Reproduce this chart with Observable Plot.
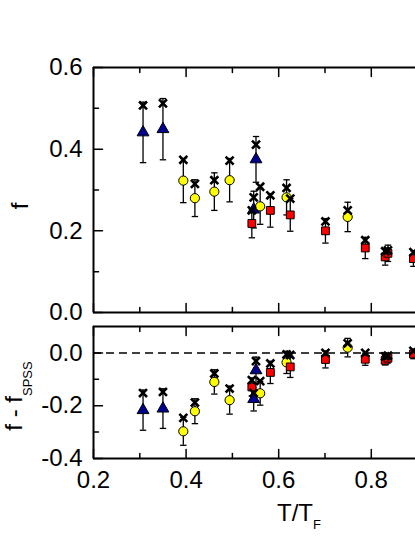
<!DOCTYPE html>
<html><head><meta charset="utf-8">
<script src="https://cdn.jsdelivr.net/npm/d3@7"></script>
<script src="https://cdn.jsdelivr.net/npm/@observablehq/plot@0.6"></script>
<style>
html,body{margin:0;padding:0;background:#fff;overflow:hidden;width:415px;height:537px;}
#wrap{position:relative;width:415px;height:537px;overflow:hidden;font-family:"Liberation Sans",Arial,Helvetica,sans-serif;color:#000;}
#top,#bot{position:absolute;left:0;}
#top{top:0;} #bot{top:316px;}
.lab{position:absolute;font-size:24px;line-height:24px;white-space:nowrap;}
.rot{transform:translate(-50%,-50%) rotate(-90deg);}
.sub{font-size:13px;position:relative;}
</style></head><body>
<div id="wrap">
<div id="top"></div><div id="bot"></div>
<div class="lab rot" style="left:20px;top:206px">f</div>
<div class="lab rot" style="left:16px;top:396px">f - f<span class="sub" style="top:10px">SPSS</span></div>
<div class="lab" style="left:277px;top:501px">T/T<span class="sub" style="top:8px">F</span></div>
</div>
<script>
// ---- data ----
// blue triangles
const triT   = [0.307, 0.350, 0.546, 0.551];
const triF   = [0.441, 0.449, 0.252, 0.375];
const triFe  = [0.074, 0.075, 0.045, 0.056];
const triFx  = [0.507, 0.512, 0.282, 0.411];
const triD   = [-0.217, -0.211, -0.175, -0.066];
const triDe  = [0.076, 0.075, 0.045, 0.050];
const triDx  = [-0.152, -0.148, -0.152, -0.031];
// yellow circles
const cirT   = [0.394, 0.419, 0.461, 0.494, 0.560, 0.617, 0.749];
const cirF   = [0.323, 0.280, 0.296, 0.324, 0.260, 0.282, 0.234];
const cirFe  = [0.054, 0.045, 0.046, 0.053, 0.044, 0.043, 0.036];
const cirFx  = [0.374, 0.315, 0.324, 0.372, 0.308, 0.305, 0.250];
const cirD   = [-0.297, -0.221, -0.110, -0.179, -0.153, -0.036, 0.020];
const cirDe  = [0.053, 0.047, 0.046, 0.053, 0.045, 0.042, 0.035];
const cirDx  = [-0.246, -0.188, -0.078, -0.135, -0.107, -0.006, 0.036];
// red squares
const sqT    = [0.542, 0.582, 0.625, 0.701, 0.787, 0.830, 0.836, 0.891];
const sqF    = [0.218, 0.250, 0.239, 0.200, 0.158, 0.136, 0.145, 0.132];
const sqFe   = [0.035, 0.041, 0.040, 0.030, 0.026, 0.020, 0.020, 0.019];
const sqFx   = [0.250, 0.287, 0.279, 0.223, 0.177, 0.150, 0.152, 0.148];
const sqD    = [-0.129, -0.074, -0.053, -0.025, -0.024, -0.028, -0.020, -0.004];
const sqDe   = [0.034, 0.042, 0.040, 0.032, 0.023, 0.018, 0.018, 0.018];
const sqDx   = [-0.103, -0.040, -0.008, 0.000, 0.000, -0.013, -0.010, 0.008];
// axes
const xDomain = [0.2, 0.8955];
const xMajor = [0.2, 0.4, 0.6, 0.8];
const xMinor = [0.3, 0.5, 0.7];
const fDomain = [0, 0.6];
const fMajor = [0, 0.2, 0.4, 0.6];
const fMinor = [0.1, 0.3, 0.5];
const dDomain = [-0.4, 0.1];
const dMajor = [-0.4, -0.2, 0];
const dMinor = [-0.3, -0.1];

const rows = (xs, vs, es, cs) => xs.map((x, i) => ({x, v: vs[i], e: es[i], c: cs[i]}));
const FONT = '"Liberation Sans", Arial, Helvetica, sans-serif';
const tickShape = {draw(ctx, l) { ctx.moveTo(0, 0); ctx.lineTo(0, -l); }};
const capSym = {draw(ctx) { ctx.moveTo(-3.2, 0); ctx.lineTo(3.2, 0); }};

function tickMarks(values, ch, anchor, rotate, length) {
  return Plot.vector(values, {[ch]: d => d, frameAnchor: anchor, rotate, length, anchor: "start",
    shape: tickShape, stroke: "#000", strokeWidth: 1.5});
}
function dataMarks(series) {
  const m = [];
  for (const s of series) {
    m.push(Plot.ruleX(s.data, {x: "x", y1: d => d.v - d.e, y2: d => d.v + d.e, stroke: "#000", strokeWidth: 1.3}));
    m.push(Plot.dot(s.data, {x: "x", y: d => d.v - d.e, symbol: capSym, r: 3, fill: "none", stroke: "#000", strokeWidth: 1.3}));
    m.push(Plot.dot(s.data, {x: "x", y: d => d.v + d.e, symbol: capSym, r: 3, fill: "none", stroke: "#000", strokeWidth: 1.3}));
  }
  for (const s of series) {
    m.push(Plot.dot(s.data, {x: "x", y: "v", symbol: s.symbol, r: s.r, fill: s.fill, stroke: "#000", strokeWidth: 1}));
  }
  for (const s of series) {
    m.push(Plot.dot(s.data, {x: "x", y: "c", symbol: "times", r: 3.7, fill: "none", stroke: "#000", strokeWidth: 2.6}));
  }
  return m;
}
function frameMarks(yd) {
  return [
    Plot.ruleY([yd[1]], {stroke: "#000", strokeWidth: 2}),
    Plot.ruleY([yd[0]], {stroke: "#000", strokeWidth: 2}),
    Plot.ruleX([xDomain[0]], {stroke: "#000", strokeWidth: 2})
  ];
}
function axisTicks(yMaj, yMin) {
  return [
    tickMarks(yMaj, "y", "left", 90, 9),
    tickMarks(yMin, "y", "left", 90, 5),
    tickMarks(xMajor, "x", "top", 180, 9),
    tickMarks(xMinor, "x", "top", 180, 5),
    tickMarks(xMajor, "x", "bottom", 0, 9),
    tickMarks(xMinor, "x", "bottom", 0, 5)
  ];
}
const style = {fontFamily: FONT, fontSize: "24px", background: "transparent", overflow: "visible", color: "#000"};
const fmt = d => d.toFixed(1);

const topSeries = [
  {data: rows(triT, triF, triFe, triFx), symbol: "triangle", r: 4.4, fill: "#00008f"},
  {data: rows(cirT, cirF, cirFe, cirFx), symbol: "circle", r: 4.6, fill: "#ffff00"},
  {data: rows(sqT, sqF, sqFe, sqFx), symbol: "square", r: 4.4, fill: "#ff0000"}
];
const botSeries = [
  {data: rows(triT, triD, triDe, triDx), symbol: "triangle", r: 4.4, fill: "#00008f"},
  {data: rows(cirT, cirD, cirDe, cirDx), symbol: "circle", r: 4.6, fill: "#ffff00"},
  {data: rows(sqT, sqD, sqDe, sqDx), symbol: "square", r: 4.4, fill: "#ff0000"}
];

const topPlot = Plot.plot({
  width: 415, height: 316, marginLeft: 93, marginRight: 0, marginTop: 67, marginBottom: 4,
  style,
  x: {domain: xDomain, axis: null},
  y: {domain: fDomain},
  marks: [
    ...dataMarks(topSeries),
    ...axisTicks(fMajor, fMinor),
    ...frameMarks(fDomain),
    Plot.axisY(fMajor, {tickSize: 0, tickPadding: 11, tickFormat: fmt, fontSize: 24, label: null})
  ]
});
document.getElementById("top").appendChild(topPlot);

const botPlot = Plot.plot({
  width: 415, height: 221, marginLeft: 93, marginRight: 0, marginTop: 10, marginBottom: 79,
  style,
  x: {domain: xDomain},
  y: {domain: dDomain},
  marks: [
    Plot.ruleY([0], {stroke: "#000", strokeWidth: 1.5, strokeDasharray: "8,5"}),
    ...dataMarks(botSeries),
    ...axisTicks(dMajor, dMinor),
    ...frameMarks(dDomain),
    Plot.axisY(dMajor, {tickSize: 0, tickPadding: 11, tickFormat: fmt, fontSize: 24, label: null}),
    Plot.axisX(xMajor, {tickSize: 0, tickPadding: 12, tickFormat: fmt, fontSize: 24, label: null})
  ]
});
document.getElementById("bot").appendChild(botPlot);
</script>
</body></html>
